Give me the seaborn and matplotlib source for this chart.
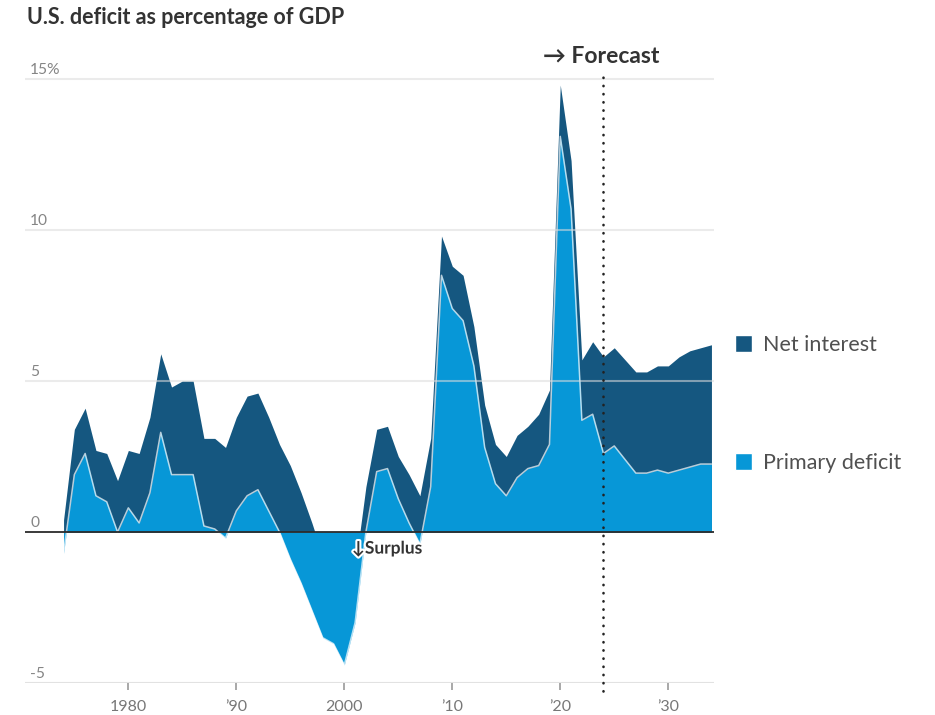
import matplotlib
matplotlib.use("Agg")
import matplotlib.pyplot as plt
import matplotlib.patheffects as pe
from matplotlib.patches import Patch
import numpy as np
import seaborn as sns

# Fiscal years, 1974 actuals through the 2034 projection
years = list(range(1974, 2035))

# Primary deficit (deficit excluding net interest), % of GDP
primary_deficit = [
    -0.7, 1.9, 2.6, 1.2, 1.0, 0.0, 0.8, 0.3, 1.3, 3.3,      # 1974-1983
    1.9, 1.9, 1.9, 0.2, 0.1, -0.2, 0.7, 1.2, 1.4, 0.7,      # 1984-1993
    0.0, -0.9, -1.7, -2.6, -3.5, -3.7, -4.4, -3.0, 0.0, 2.0,  # 1994-2003
    2.1, 1.1, 0.3, -0.4, 1.5, 8.5, 7.4, 7.0, 5.5, 2.8,      # 2004-2013
    1.6, 1.2, 1.8, 2.1, 2.2, 2.9, 13.1, 10.7, 3.7, 3.9,     # 2014-2023
    2.6, 2.85, 2.4, 1.95, 1.95, 2.05, 1.95, 2.05, 2.15, 2.25,  # 2024-2033
    2.25,                                                   # 2034
]

# Net interest outlays, % of GDP
net_interest = [
    1.1, 1.5, 1.5, 1.5, 1.6, 1.7, 1.9, 2.3, 2.5, 2.6,
    2.9, 3.1, 3.1, 2.9, 3.0, 3.0, 3.1, 3.3, 3.2, 3.1,
    2.9, 3.1, 3.0, 2.9, 2.7, 2.4, 2.1, 1.8, 1.5, 1.4,
    1.4, 1.4, 1.6, 1.6, 1.6, 1.3, 1.4, 1.5, 1.3, 1.4,
    1.3, 1.3, 1.4, 1.4, 1.7, 1.8, 1.7, 1.6, 2.0, 2.4,
    3.2, 3.25, 3.3, 3.35, 3.35, 3.45, 3.55, 3.75, 3.85, 3.85,
    3.95,
]

forecast_start = 2024
y_ticks = [-5, 0, 5, 10, 15]
y_tick_labels = ["-5", "0", "5", "10", "15%"]
x_ticks = [1980, 1990, 2000, 2010, 2020, 2030]
x_tick_labels = ["1980", "\u201990", "2000", "\u201910", "\u201920", "\u201930"]

total_deficit = np.array(primary_deficit) + np.array(net_interest)

DARK = "#155780"
LIGHT = "#0797d7"
TEXT = "#333333"

sns.set_theme(style="white")
plt.rcParams["font.family"] = ["Lato", "DejaVu Sans"]

W, H = 935, 715
fig = plt.figure(figsize=(W / 100, H / 100), dpi=100)
left_px, right_px = 25, 713.5
bottom_px, top_px = 683, 67
ax = fig.add_axes([left_px / W, (H - bottom_px) / H,
                   (right_px - left_px) / W, (bottom_px - top_px) / H])
ax.set_xlim(1970.43, 2034.19)
ax.set_ylim(-5, (bottom_px - 151 - top_px) / 30.2)

# Total deficit underneath, primary deficit drawn over it
ax.fill_between(years, 0, total_deficit, color=DARK, lw=0, zorder=1)
ax.fill_between(years, 0, primary_deficit, color=LIGHT, lw=0, zorder=2)
sns.lineplot(x=years, y=primary_deficit, ax=ax, color="white",
             linewidth=1.1, alpha=0.7, zorder=2.5)

# Gridlines
for v in y_ticks:
    if v == 0:
        continue
    if v == -5:
        ax.axhline(v, color="#e2e2e2", lw=1.5, zorder=0.5)
    else:
        ax.axhline(v, color="#dcdcdc", lw=1.5, alpha=0.55, zorder=3)
ax.axhline(0, color="#2b2b2b", lw=1.3, zorder=4)

for v, lab in zip(y_ticks, y_tick_labels):
    ax.text(1970.9, v + 0.17, lab, ha="left", va="baseline",
            fontsize=11.2, color="#858585", zorder=5)

# Forecast divider
ax.plot([forecast_start, forecast_start], [-5.25, 15.15], color="#222222",
        lw=1.9, linestyle=(0, (0.1, 3.0)), dash_capstyle="round",
        clip_on=False, zorder=6)
ax.text(2023.8, 15.73, "\u2192 Forecast", ha="center", va="center",
        fontsize=16.5, fontweight="bold", color=TEXT)

ax.text(2000.7, -0.55, "\u2193Surplus", ha="left", va="center",
        fontsize=12.5, fontweight="bold", color=TEXT, zorder=7,
        path_effects=[pe.withStroke(linewidth=3, foreground="white")])

ax.set_xticks(x_ticks, labels=x_tick_labels)
ax.set_yticks([])
ax.tick_params(axis="x", bottom=True, length=5, width=1.4, color="#a8a8a8",
               pad=7, labelsize=11.5, labelcolor="#777777", direction="out")
for s in ax.spines.values():
    s.set_visible(False)

fig.text(27 / W, 1 - 18 / H, "U.S. deficit as percentage of GDP",
         ha="left", va="center", fontsize=15.5, fontweight="bold", color=TEXT)

handles = [Patch(facecolor=DARK, label="Net interest"),
           Patch(facecolor=LIGHT, label="Primary deficit")]
fig.legend(handles=handles, loc="upper left",
           bbox_to_anchor=(735 / W, 1 - 335 / H), frameon=False,
           fontsize=15.5, handlelength=0.8, handleheight=0.8,
           handletextpad=0.5, labelspacing=4.55, borderaxespad=0,
           borderpad=0, labelcolor="#505050")

fig.savefig("out.png", dpi=100)
